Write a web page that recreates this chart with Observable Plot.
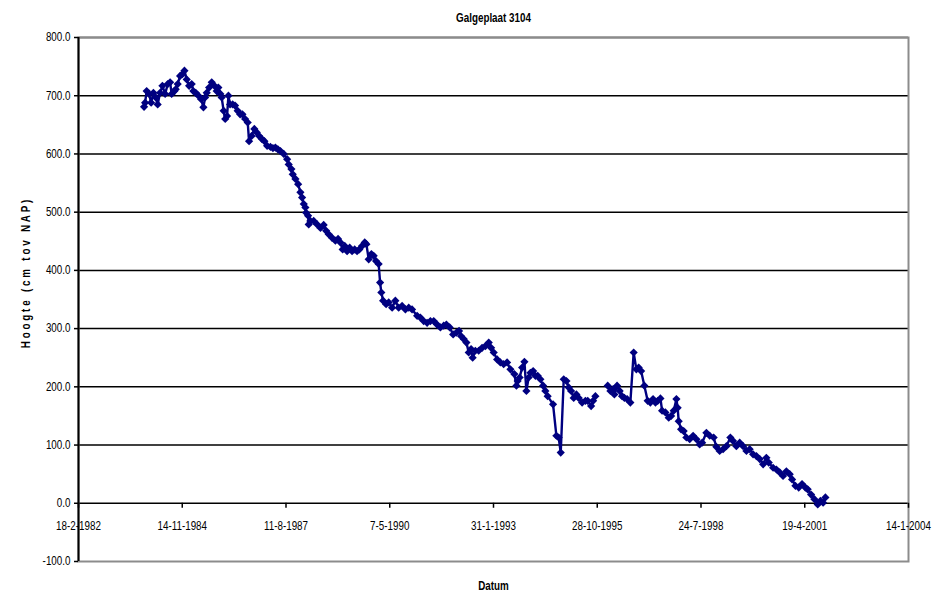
<!DOCTYPE html>
<html><head><meta charset="utf-8">
<script src="https://cdn.jsdelivr.net/npm/d3@7"></script>
<script src="https://cdn.jsdelivr.net/npm/@observablehq/plot@0.6"></script>
<style>
html,body{margin:0;padding:0;background:#fff;}
#chart{width:946px;height:592px;}
</style></head><body><div id="chart"></div>
<script>
const title = "Galgeplaat 3104";
const yLabel = "Hoogte (cm tov NAP)";
const xLabel = "Datum";

const dates = [
"1983-11-12","1983-11-22","1983-12-07","1983-12-30","1984-01-19","1984-02-10","1984-03-03","1984-03-22","1984-04-14","1984-05-07",
"1984-06-02","1984-06-27","1984-07-20","1984-08-04","1984-08-30","1984-09-12","1984-10-01","1984-10-24","1984-11-15","1984-12-05",
"1984-12-27","1985-01-19","1985-02-13","1985-03-01","1985-03-24","1985-04-19","1985-05-15","1985-06-06","1985-06-22","1985-07-08",
"1985-07-31","1985-08-25","1985-09-20","1985-10-12","1985-10-28","1985-11-17","1985-11-29","1985-12-18","1986-01-02","1986-01-20",
"1986-02-02","1986-02-18","1986-03-15","1986-04-07","1986-05-02","1986-05-26","1986-06-17","1986-07-13","1986-08-07","1986-08-20",
"1986-09-14","1986-10-10","1986-11-02","1986-11-25","1986-12-20","1987-01-15","1987-02-10","1987-03-14","1987-04-07","1987-05-01",
"1987-05-25","1987-06-18","1987-07-20","1987-08-22","1987-09-06","1987-10-02","1987-10-15","1987-11-10","1987-12-06","1987-12-28",
"1988-01-13","1988-01-29","1988-02-14","1988-02-21","1988-03-11","1988-03-17","1988-04-02","1988-05-04","1988-06-06","1988-07-08",
"1988-08-08","1988-09-01","1988-09-26","1988-10-28","1988-11-29","1988-12-25","1989-01-16","1989-02-07","1989-02-27","1989-03-22",
"1989-04-16","1989-05-09","1989-06-03","1989-06-26","1989-07-18","1989-08-13","1989-09-08","1989-09-24","1989-10-16","1989-11-11",
"1989-12-03","1989-12-26","1990-01-20","1990-02-03","1990-02-15","1990-03-04","1990-04-02","1990-04-27","1990-05-30","1990-06-30",
"1990-08-01","1990-09-03","1990-10-05","1990-11-06","1990-12-08","1991-01-26","1991-02-26","1991-03-30","1991-05-02","1991-06-03",
"1991-07-05","1991-08-06","1991-09-07","1991-10-09","1991-11-04","1991-12-06","1992-01-08","1992-02-08","1992-03-05","1992-03-25",
"1992-04-19","1992-05-15","1992-06-06","1992-06-29","1992-07-14","1992-08-09","1992-09-10","1992-10-13","1992-11-14","1992-12-16",
"1993-01-08","1993-02-02","1993-03-07","1993-04-07","1993-05-09","1993-06-11","1993-07-13","1993-08-20","1993-09-09","1993-09-21",
"1993-10-10","1993-11-03","1993-11-25","1993-12-14","1994-01-05","1994-01-22","1994-02-17","1994-03-11","1994-04-02","1994-04-28",
"1994-05-24","1994-06-15","1994-07-07","1994-08-28","1994-09-29","1994-10-21","1994-11-10","1994-12-09","1995-01-04","1995-01-26",
"1995-02-18","1995-03-15","1995-04-10","1995-05-02","1995-06-04","1995-07-06","1995-07-28","1995-08-30","1995-09-18","1995-10-10",
"1995-12-20",
"1996-02-06","1996-03-03","1996-03-29","1996-04-10","1996-05-06","1996-05-31","1996-06-23","1996-07-16","1996-08-11","1996-09-11",
"1996-10-13","1996-11-08","1996-11-30","1996-12-24","1997-01-24","1997-02-25","1997-03-23","1997-04-18","1997-05-11","1997-06-02",
"1997-06-28","1997-07-14","1997-08-15","1997-09-16","1997-10-09","1997-11-03","1997-11-29","1997-12-11","1997-12-21","1998-01-13",
"1998-02-07","1998-03-05","1998-04-06","1998-05-09","1998-06-10","1998-07-11","1998-08-04","1998-09-14","1998-10-16","1998-11-23",
"1998-12-19","1999-01-20","1999-02-22","1999-03-26","1999-05-03","1999-05-29","1999-06-30","1999-08-01","1999-09-03","1999-10-05",
"1999-11-05","1999-12-08","2000-01-09","2000-02-10","2000-03-14","2000-04-14","2000-05-07","2000-06-18","2000-07-20","2000-08-21",
"2000-09-22","2000-10-24","2000-11-25","2000-12-18","2001-01-19","2001-02-20","2001-03-24","2001-04-25","2001-05-17","2001-06-19",
"2001-07-21","2001-08-22","2001-09-17","2001-10-13","2001-11-04"
];
const values = [
681,688,708,703,688,705,697,685,705,717,
703,720,723,703,708,711,720,734,737,743,
728,717,720,708,705,700,694,680,697,705,
714,723,717,708,714,703,697,674,660,665,
700,685,685,683,674,668,668,660,654,622,
631,643,637,631,626,622,614,612,610,611,
608,605,600,591,582,574,565,557,548,534,
525,514,508,499,494,479,485,485,479,473,
478,468,462,456,451,454,448,436,442,433,
439,433,436,433,436,442,448,445,419,428,
425,416,411,379,362,348,342,345,336,348,
336,339,333,336,333,322,319,313,310,313,
313,307,302,305,307,302,290,293,296,287,
282,276,259,265,250,262,262,267,270,276,
267,259,247,242,239,242,230,222,202,210,
216,233,243,193,216,224,227,219,219,213,
202,193,184,170,116,113,87,213,210,199,
193,181,187,181,173,176,176,167,176,184,
null,
202,193,196,187,202,193,184,181,179,173,
259,230,233,227,202,176,173,179,173,176,
180,159,156,147,150,159,179,164,141,127,
124,113,110,116,110,101,104,121,116,113,
97,90,93,98,113,107,98,104,98,90,
93,84,81,76,67,78,70,61,58,53,
47,55,50,41,30,27,33,27,24,15,
7,-2,4,1,10
];

const xTicks = ["1982-02-18","1984-11-14","1987-08-11","1990-05-07","1993-01-31","1995-10-28","1998-07-24","2001-04-19","2004-01-14"];
const xTickLabels = ["18-2-1982","14-11-1984","11-8-1987","7-5-1990","31-1-1993","28-10-1995","24-7-1998","19-4-2001","14-1-2004"];
const yTicks = [-100,0,100,200,300,400,500,600,700,800];
const yGrid = [0,100,200,300,400,500,600,700,800];

const data = dates.map((d, i) => ({date: new Date(d), value: values[i]}));
const pts = data.filter(d => d.value != null);
const ticks = xTicks.map((d, i) => ({date: new Date(d), label: xTickLabels[i]}));
const font = '"Liberation Sans Narrow","Arial Narrow","Liberation Sans",Arial,sans-serif';
const navy = "#000080";

const plot = Plot.plot({
  width: 946, height: 592,
  marginLeft: 78, marginRight: 38, marginTop: 37, marginBottom: 31,
  style: {fontFamily: font, fontSize: "12px", color: "#000", background: "#fff", overflow: "visible"},
  x: {type: "utc", domain: [ticks[0].date, ticks[ticks.length - 1].date], axis: null},
  y: {domain: [yTicks[0], yTicks[yTicks.length - 1]]},
  marks: [
    Plot.ruleY(yGrid, {stroke: "#000", strokeWidth: 1.5}),
    Plot.frame({stroke: "#8c8c8c", strokeWidth: 2}),
    Plot.ruleX([ticks[0].date], {stroke: "#000", strokeWidth: 2}),
    Plot.ruleX(ticks, {x: "date", y1: 0, y2: 0, insetBottom: -5, stroke: "#000", strokeWidth: 1.5}),
    Plot.text(ticks, {x: "date", y: 0, text: "label", dy: 23, fontSize: 12, fill: "#000"}),
    Plot.axisY(yTicks, {tickSize: 4, tickPadding: 4, strokeWidth: 1.5, tickFormat: d => d.toFixed(1), label: null, fontSize: 12}),
    Plot.line(data, {x: "date", y: "value", stroke: navy, strokeWidth: 2.4}),
    Plot.dot(pts, {x: "date", y: "value", symbol: "diamond2", r: 3.7, fill: navy, stroke: "none"}),
    Plot.text([title], {frameAnchor: "top", dy: -19, lineAnchor: "middle", textAnchor: "middle", fontWeight: "bold", fontSize: 12, fill: "#000"}),
    Plot.text([xLabel], {frameAnchor: "bottom", dy: 25, lineAnchor: "middle", textAnchor: "middle", fontWeight: "bold", fontSize: 12, fill: "#000"}),
    Plot.text([yLabel], {frameAnchor: "left", dx: -52, dy: -27, rotate: -90, lineAnchor: "middle", textAnchor: "middle", fontWeight: "bold", fontSize: 12, fill: "#000"})
  ]
});
document.getElementById("chart").appendChild(plot);
const svg = d3.select(plot);
svg.selectAll("text").filter(function(){ return this.textContent === yLabel; }).attr("letter-spacing", "3.4px");
// narrow the glyphs (no Arial Narrow available), anchored at each label's own position
svg.selectAll("text").each(function(){
  const t = this.getAttribute("transform");
  if (t) this.setAttribute("transform", t + " scale(0.82,1)");
});
</script></body></html>
